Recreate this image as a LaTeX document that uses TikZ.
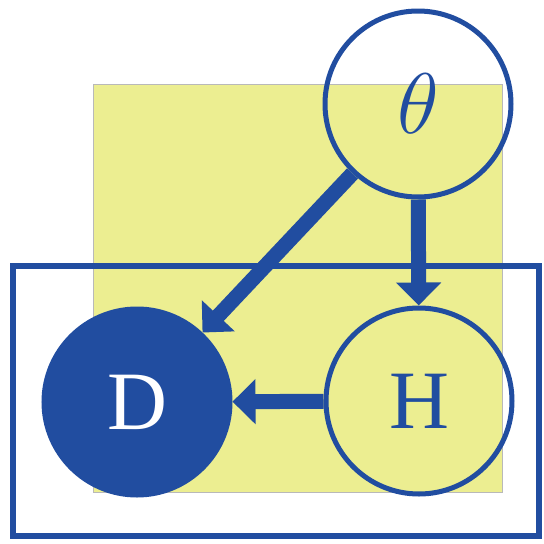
\RequirePackage{fix-cm}
\documentclass[tikz,border=0pt]{standalone}
\usepackage{fontspec}
\newfontfamily\labelfont{Liberation Serif}
\usetikzlibrary{arrows.meta}
\definecolor{pblue}{RGB}{33,77,160}
\definecolor{pyellow}{RGB}{236,238,145}
\definecolor{pgray}{RGB}{185,185,185}
\begin{document}
\begin{tikzpicture}[x=1pt,y=-1pt,
  varnode/.style={circle,draw=pblue,line width=5pt,minimum size=186pt,inner sep=0pt,text=pblue},
  obsnode/.style={varnode,fill=pblue,text=white},
  edge/.style={draw=pblue,line width=15pt,-{Triangle[width=44pt,length=23pt]}}]
\useasboundingbox (0,0) rectangle (544,544);
\fill[pyellow,draw=pgray,line width=1pt] (93,84) rectangle (502,492);
\draw[pblue,line width=6pt] (13,266) rectangle (539,536);
\node[varnode] (theta) at (418,104) {\fontsize{86}{86}\selectfont$\theta$};
\node[varnode] (H) at (419,401) {\labelfont\fontsize{83}{83}\selectfont H};
\node[obsnode] (D) at (137,402) {\labelfont\fontsize{83}{83}\selectfont D};
\draw[edge] (theta) -- (H);
\draw[edge] (theta) -- (D);
\draw[edge] (H) -- (D);
\end{tikzpicture}
\end{document}
